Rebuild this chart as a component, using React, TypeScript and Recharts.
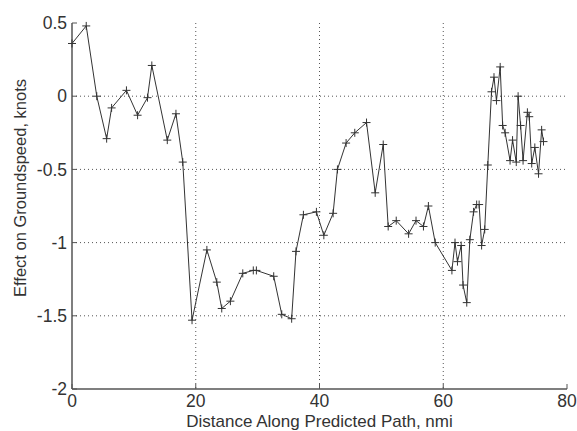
import React from "react"
import { LineChart, Line, XAxis, YAxis, CartesianGrid } from "recharts"

// distance along path (nmi) and effect on groundspeed (knots)
const distance = [
  0, 2.3, 4, 5.6, 6.4, 8.8, 10.6, 12.2, 12.9, 15.4, 16.8, 17.9,
  19.4, 21.8, 23.4, 24.2, 25.6, 27.6, 29.3, 29.8, 32.6, 33.9, 35.5,
  36.2, 37.4, 39.5, 40.7, 42.2, 42.9, 44.3, 45.7, 47.6, 49.0, 50.3,
  51.1, 52.4, 54.4, 55.6, 56.8, 57.6, 58.7, 61.4, 61.9, 62.3, 62.9,
  63.2, 63.8, 64.3, 64.9, 65.4, 65.8, 66.2, 66.7, 67.2, 67.8, 68.2,
  68.6, 69.2, 69.6, 70.0, 70.8, 71.2, 71.8, 72.1, 72.5, 72.9, 73.6,
  73.9, 74.3, 74.8, 75.4, 75.9, 76.2,
]
const effect = [
  0.36, 0.48, 0.0, -0.29, -0.08, 0.04, -0.13, -0.01, 0.21, -0.3, -0.12, -0.45,
  -1.53, -1.05, -1.27, -1.45, -1.4, -1.21, -1.19, -1.19, -1.23, -1.49, -1.52,
  -1.06, -0.81, -0.79, -0.95, -0.8, -0.5, -0.32, -0.25, -0.18, -0.66, -0.33,
  -0.89, -0.85, -0.94, -0.85, -0.89, -0.75, -1.0, -1.19, -1.0, -1.13, -1.02,
  -1.29, -1.41, -0.98, -0.79, -0.74, -0.74, -1.02, -0.91, -0.47, 0.03, 0.13,
  -0.03, 0.2, -0.2, -0.25, -0.44, -0.3, -0.45, 0.0, -0.2, -0.44, -0.11,
  -0.14, -0.46, -0.35, -0.53, -0.23, -0.31,
]

const xTicks = [0, 20, 40, 60, 80]
const yTicks = [-2, -1.5, -1, -0.5, 0, 0.5]

const data = distance.map((d, i) => ({ d, v: effect[i] }))

const ink = "#333"
const axisColor = "#555"
const font = "Liberation Sans, Arial, sans-serif"
const tickStyle = { fontSize: 17.5, fill: ink, fontFamily: font }
const axisLine = { stroke: axisColor, strokeWidth: 1.5 }
const tickLine = { stroke: axisColor }

function Plus(props: any) {
  const { cx, cy } = props
  if (cx == null || cy == null) return null
  return (
    <g stroke={ink} strokeWidth={1}>
      <line x1={cx - 4} y1={cy} x2={cx + 4} y2={cy} />
      <line x1={cx} y1={cy - 4} x2={cx} y2={cy + 4} />
    </g>
  )
}

const blank = () => ""

export default function App() {
  return (
    <div style={{ position: "absolute", left: 0, top: 0, background: "#fff" }}>
      <LineChart width={577} height={431} data={data} margin={{ top: 23, right: 10, left: 0, bottom: 0 }}>
        <CartesianGrid stroke={axisColor} strokeDasharray="1 3" horizontalValues={[0, -0.5, -1, -1.5]} verticalValues={[20, 40, 60]} />
        <XAxis
          dataKey="d"
          type="number"
          domain={[0, 80]}
          ticks={xTicks}
          height={42}
          tickSize={-5}
          tickMargin={11}
          tickLine={tickLine}
          axisLine={axisLine}
          tick={tickStyle}
          label={{
            content: () => (
              <text x={319.5} y={426.5} textAnchor="middle" style={{ fontSize: 17, fill: ink, fontFamily: font }}>
                Distance Along Predicted Path, nmi
              </text>
            ),
          }}
        />
        <XAxis
          xAxisId="top"
          orientation="top"
          type="number"
          domain={[0, 80]}
          ticks={xTicks}
          height={0}
          tickSize={-5}
          tickFormatter={blank}
          tickLine={tickLine}
          axisLine={axisLine}
        />
        <YAxis
          type="number"
          domain={[-2, 0.5]}
          ticks={yTicks}
          width={72}
          tickSize={-5}
          tickMargin={10}
          tickLine={tickLine}
          axisLine={axisLine}
          tick={tickStyle}
          tickFormatter={(v: number) => String(v)}
          label={{
            content: () => (
              <text
                x={22}
                y={188}
                transform="rotate(-90 22 188)"
                textAnchor="middle"
                dominantBaseline="middle"
                style={{ fontSize: 16.5, fill: ink, fontFamily: font }}
              >
                Effect on Groundspeed, knots
              </text>
            ),
          }}
        />
        <YAxis
          yAxisId="right"
          orientation="right"
          type="number"
          domain={[-2, 0.5]}
          ticks={yTicks}
          width={0}
          tickSize={-5}
          tickFormatter={blank}
          tickLine={tickLine}
          axisLine={axisLine}
        />
        <Line dataKey="v" stroke={ink} strokeWidth={1} dot={<Plus />} activeDot={false} isAnimationActive={false} />
      </LineChart>
    </div>
  )
}
